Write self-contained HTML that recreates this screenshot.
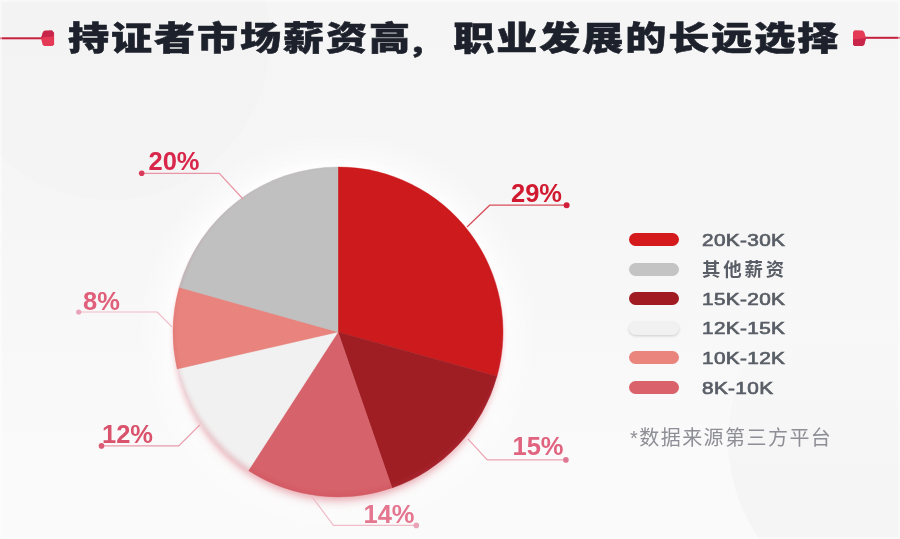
<!DOCTYPE html>
<html lang="zh-CN">
<head>
<meta charset="utf-8">
<title>持证者市场薪资高，职业发展的长远选择</title>
<style>
  html, body { margin: 0; padding: 0; }
  body { width: 900px; height: 539px; overflow: hidden; background: #f5f5f5; }
  #stage {
    position: relative; width: 900px; height: 539px; overflow: hidden;
    background:
      radial-gradient(circle at 338px 332px, rgba(255,255,255,.6) 0, rgba(255,255,255,.6) 168px, rgba(255,255,255,0) 200px),
      radial-gradient(circle at 110px 40px, rgba(0,0,0,.008) 0, rgba(0,0,0,.008) 159px, rgba(0,0,0,0) 161px),
      linear-gradient(180deg, #f5f5f5 0, #f6f6f6 40%, #fafafa 85%, #fafafa 100%);
    font-family: "Liberation Sans", "Noto Sans CJK SC", sans-serif;
  }
  #stage::after {
    content: ""; position: absolute; left: 0; top: 0; width: 896px; height: 535px;
    border: 2px solid rgba(255,255,255,.45); pointer-events: none;
  }
  svg { position: absolute; left: 0; top: 0; }
  .title {
    position: absolute; left: 67.5px; top: 14px; margin: 0; white-space: nowrap;
    font-family: "Liberation Sans", "Noto Sans CJK SC", sans-serif;
    font-weight: 900; font-size: 33px; line-height: 50px; color: #1d212b; -webkit-text-stroke: 0.6px #1d212b;
    letter-spacing: 1.57px; transform-origin: 0 50%; transform: scaleX(1.244);
  }
  .title .cm { display: inline-block; position: relative; left: -5.6px; top: 1.8px; margin-right: -1.4px; transform: scale(.8); transform-origin: 30% 80%; }
  .pct {
    position: absolute; white-space: nowrap; font-weight: 700; font-size: 25.5px; line-height: 26px;
    font-family: "Liberation Sans", sans-serif; transform-origin: 0 50%;
  }
  .legend { position: absolute; left: 629px; top: 224px; margin: 0; padding: 0; list-style: none; }
  .legend li { position: relative; height: 29.6px; }
  .legend .pill { position: absolute; left: 0; top: 9px; width: 50px; height: 13px; border-radius: 7px; }
  .legend .lab {
    position: absolute; left: 73px; top: 0.7px; line-height: 30px; white-space: nowrap;
    font-family: "Liberation Sans", "Noto Sans CJK SC", sans-serif; font-weight: 400;
    -webkit-text-stroke: 0.7px #595e66;
    font-size: 17.3px; color: #595e66; letter-spacing: 0.3px; transform-origin: 0 50%; transform: scaleX(1.2);
  }
  .legend .lab.cn { font-weight: 700; -webkit-text-stroke: 0; font-size: 18.4px; letter-spacing: 2.9px; transform: none; top: 1.5px; }
  .note {
    position: absolute; left: 630px; top: 422.7px; margin: 0; white-space: nowrap;
    font-family: "Liberation Sans", "Noto Sans CJK SC", sans-serif; font-weight: 400;
    font-size: 20px; line-height: 30px; color: #8e8e96; letter-spacing: 1.45px;
  }
</style>
</head>
<body>
<div id="stage">
  <svg width="900" height="539" viewBox="0 0 900 539">
    <defs>
      <filter id="glow" x="-20%" y="-20%" width="140%" height="140%">
        <feGaussianBlur stdDeviation="5"/>
      </filter>
      <linearGradient id="cg" gradientUnits="userSpaceOnUse" x1="0" y1="330" x2="0" y2="470">
        <stop offset="0" stop-color="#000" stop-opacity="0"/>
        <stop offset="1" stop-color="#000" stop-opacity=".02"/>
      </linearGradient>
      <clipPath id="pieclip"><circle cx="338" cy="332" r="165"/></clipPath>
      <filter id="rim" x="-10%" y="-10%" width="120%" height="120%">
        <feGaussianBlur stdDeviation="2"/>
      </filter>
      <filter id="sh2" x="-20%" y="-20%" width="140%" height="140%">
        <feGaussianBlur stdDeviation="6"/>
      </filter>
      <filter id="sh" x="-20%" y="-20%" width="140%" height="140%">
        <feGaussianBlur stdDeviation="3"/>
      </filter>
    </defs>
    <circle cx="900" cy="440" r="172" fill="url(#cg)"/>
    <!-- header ornaments -->
    <g>
      <rect x="0" y="37.3" width="43" height="2" fill="#c5203d"/>
      <path d="M41 38.2 L43 32 L44.5 30.7 L52 30.6 L54.1 33 L54.1 44.2 L52.5 46.1 L44 46.1 L42.6 44.5 Z" fill="#e43a55"/>
      <path d="M41 38.2 L43 32 L44.5 30.7 L52 30.6 L54.1 33 L53 36.6 L45 37 Z" fill="#c7254a"/>
      <rect x="864" y="36.8" width="36" height="2" fill="#c5203d"/>
      <path d="M866 38 L864.2 32 L862.5 30.4 L854.6 30.3 L853 32 L853 44.4 L854.6 46.1 L862.6 46.1 L864.3 44.4 Z" fill="#e43a55"/>
      <path d="M866 38 L864.3 44.4 L862.6 46.1 L854.6 46.1 L853 44.4 L853 39.5 L862 38.6 Z" fill="#c7254a"/>
    </g>
    <!-- pie shadow / glow -->
    <circle cx="338" cy="332" r="168" fill="#ffffff" filter="url(#glow)"/>
    <circle cx="338" cy="342" r="160" fill="#d9a0a8" filter="url(#sh2)" opacity=".42"/>
    <circle cx="338" cy="337" r="163.5" fill="#e58f9a" filter="url(#sh)" opacity=".55"/>
    <!-- pie -->
    <g id="pie">
      <path d="M338 332 L338.00 167.00 A165 165 0 0 1 496.92 376.37 Z" fill="#cc1a1d" stroke="#cc1a1d" stroke-width="0.4"/>
      <path d="M338 332 L496.92 376.37 A165 165 0 0 1 391.99 487.92 Z" fill="#9e1e24" stroke="#9e1e24" stroke-width="0.4"/>
      <path d="M338 332 L391.99 487.92 A165 165 0 0 1 248.38 470.54 Z" fill="#d6636b" stroke="#d6636b" stroke-width="0.4"/>
      <path d="M338 332 L248.38 470.54 A165 165 0 0 1 177.20 368.98 Z" fill="#f1f1f1" stroke="#f1f1f1" stroke-width="0.4"/>
      <path d="M338 332 L177.20 368.98 A165 165 0 0 1 179.16 287.35 Z" fill="#e8847d" stroke="#e8847d" stroke-width="0.4"/>
      <path d="M338 332 L179.16 287.35 A165 165 0 0 1 338.00 167.00 Z" fill="#c0c0c0" stroke="#c0c0c0" stroke-width="0.4"/>
    </g>
    <g clip-path="url(#pieclip)">
      <circle cx="338" cy="329" r="168" fill="none" stroke="#c8364b" stroke-opacity=".22" stroke-width="7" filter="url(#rim)"/>
    </g>
    <!-- call-outs -->
    <g fill="none" stroke-width="1.2">
      <polyline points="566.6,205.2 489.7,205.2 467,227" stroke="#d84d5a"/>
      <polyline points="565.9,459.9 487.3,459.9 467.9,438.9" stroke="#eba3b3"/>
      <polyline points="416.3,525.4 333.4,525.4 311.7,496.3" stroke="#f0bcc8"/>
      <polyline points="101.5,445.9 178.8,445.9 199.8,424.9" stroke="#e89aa9"/>
      <polyline points="78.7,312 157.2,312 172,326.8" stroke="#efb9c5"/>
      <polyline points="141.7,173.3 219.3,173.3 243,199" stroke="#e995a6"/>
    </g>
    <g>
      <circle cx="566.6" cy="205.2" r="3" fill="#d2203a"/>
      <circle cx="565.9" cy="459.9" r="2.8" fill="#e07792"/>
      <circle cx="416.3" cy="525.4" r="2.8" fill="#e9a2b6"/>
      <circle cx="101.5" cy="445.9" r="2.8" fill="#dc5c75"/>
      <circle cx="78.7" cy="312" r="2.6" fill="#e9a3b6"/>
      <circle cx="141.7" cy="173.3" r="2.8" fill="#db3b5a"/>
    </g>
  </svg>

  <h1 class="title">持证者市场薪资高<span class="cm">，</span>职业发展的长远选择</h1>

  <div class="pct" style="left:148.5px; top:147.5px; color:#d8274a;">20%</div>
  <div class="pct" style="left:511px;   top:179.5px; color:#d11a2f;">29%</div>
  <div class="pct" style="left:83px;    top:288px;   color:#e0607b;">8%</div>
  <div class="pct" style="left:102px;   top:421px;   color:#d9536c;">12%</div>
  <div class="pct" style="left:512.5px; top:433px;   color:#e0647f;">15%</div>
  <div class="pct" style="left:363.5px; top:500.5px; color:#e4768f;">14%</div>

  <ul class="legend">
    <li><span class="pill" style="background:#d41a1c"></span><span class="lab">20K-30K</span></li>
    <li><span class="pill" style="background:#c4c4c4"></span><span class="lab cn">其他薪资</span></li>
    <li><span class="pill" style="background:#a01c22"></span><span class="lab">15K-20K</span></li>
    <li><span class="pill" style="background:#f1f1f1; box-shadow:0 1px 3px rgba(0,0,0,.18)"></span><span class="lab">12K-15K</span></li>
    <li><span class="pill" style="background:#ea857d"></span><span class="lab">10K-12K</span></li>
    <li><span class="pill" style="background:#da626a"></span><span class="lab">8K-10K</span></li>
  </ul>

  <p class="note">*数据来源第三方平台</p>
</div>
</body>
</html>
